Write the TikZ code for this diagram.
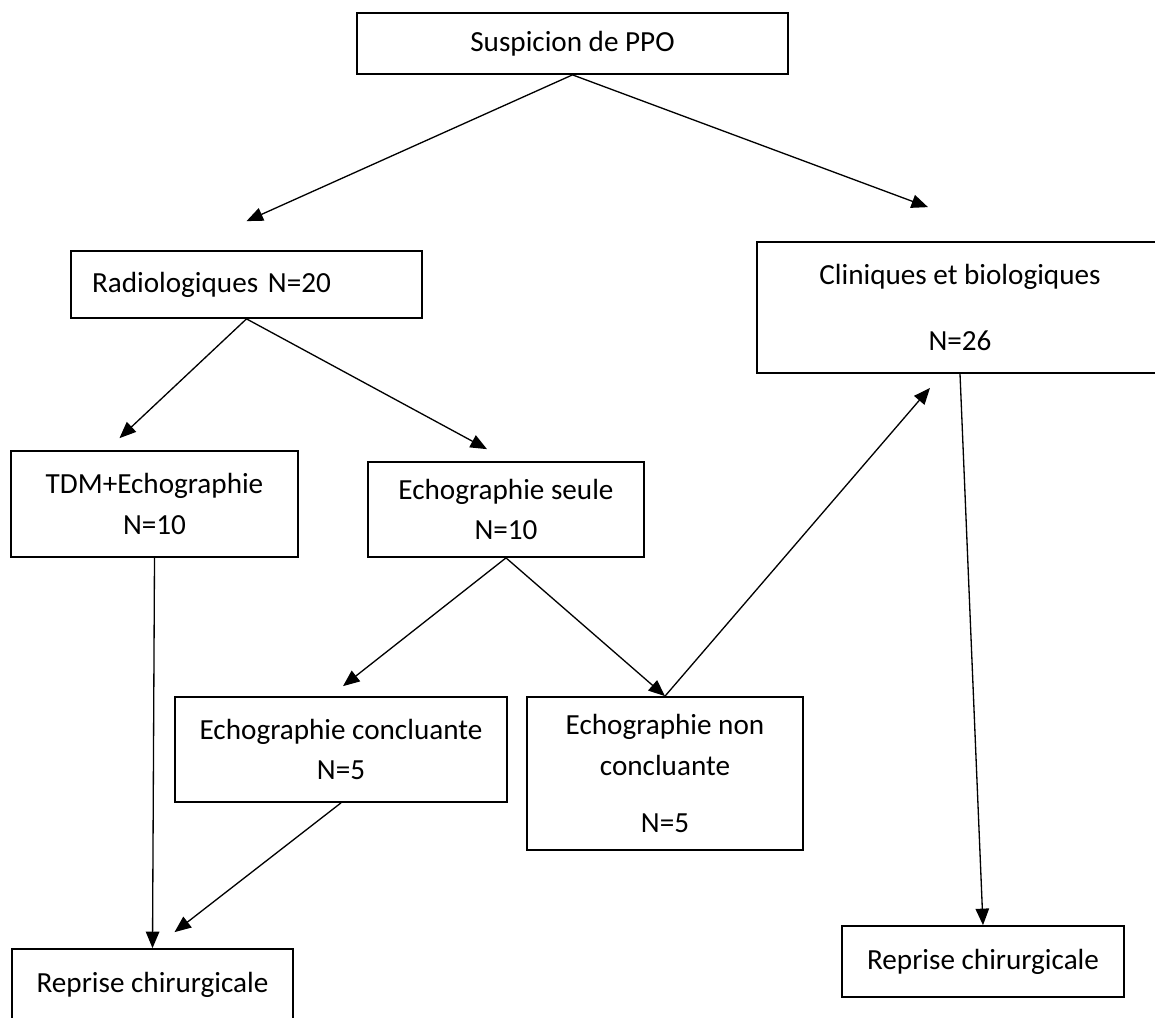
\documentclass[tikz,border=0pt]{standalone}
\usepackage{fontspec}
\setmainfont{Carlito}
\usetikzlibrary{arrows.meta,calc}

\begin{document}
\begin{tikzpicture}[x=0.02cm, y=-0.02cm,
    boite/.style={shape=rectangle, draw, line width=1pt, align=center, inner sep=0pt,
      font=\fontsize{16.6}{23.2}\selectfont},
    fleche/.style={-{Triangle[length=3.3mm,width=2.7mm]}, line width=0.75pt}]
    \useasboundingbox (0, 0) rectangle (1155, 1017);

    \node (S) [boite, minimum width=8.62cm, minimum height=1.22cm] at (572.5, 43.5) {Suspicion de PPO};

    \node (R) [boite, minimum width=7.02cm, minimum height=1.34cm, text width=6.18cm, align=left] at (246.5, 284.5) {Radiologiques N=20};
    \node (C) [boite, minimum width=8.12cm, minimum height=2.62cm] at (960, 307.5) {Cliniques et biologiques\\[14pt]N=26};

    \node (T) [boite, minimum width=5.74cm, minimum height=2.12cm] at (154.5, 504) {TDM+Echographie\\N=10};
    \node (E) [boite, minimum width=5.52cm, minimum height=1.9cm] at (506, 509.5) {Echographie seule\\N=10};

    \node (EC) [boite, minimum width=6.64cm, minimum height=2.1cm] at (341, 749.5) {Echographie concluante\\N=5};
    \node (EN) [boite, minimum width=5.52cm, minimum height=3.06cm] at (665, 773.5) {Echographie non\\concluante\\[9pt]N=5};

    \node (RG) [boite, minimum width=5.62cm, minimum height=1.44cm] at (152.5, 985) {Reprise chirurgicale};
    \node (RD) [boite, minimum width=5.64cm, minimum height=1.42cm] at (983, 961.5) {Reprise chirurgicale};

    \draw [fleche] (S.south) -- ($(R.north)+(0,-29)$);
    \draw [fleche] (S.south) -- ($(C.north)+(-32,-34)$);

    \draw [fleche] (R.south) -- ($(T.north)+(-35,-12)$);
    \draw [fleche] (R.south) -- ($(E.north)+(-19,-12)$);

    \draw [fleche] (E.south) -- ($(EC.north)+(2,-10)$);
    \draw [fleche] (E.south) -- (EN.north);
    \draw [fleche] (EN.north) -- ($(C.south)+(-30,14)$);

    \draw [fleche] (T.south) -- (RG.north);
    \draw [fleche] (EC.south) -- ($(RG.north)+(22,-16)$);
    \draw [fleche] (C.south) -- (RD.north);
\end{tikzpicture}
\end{document}
